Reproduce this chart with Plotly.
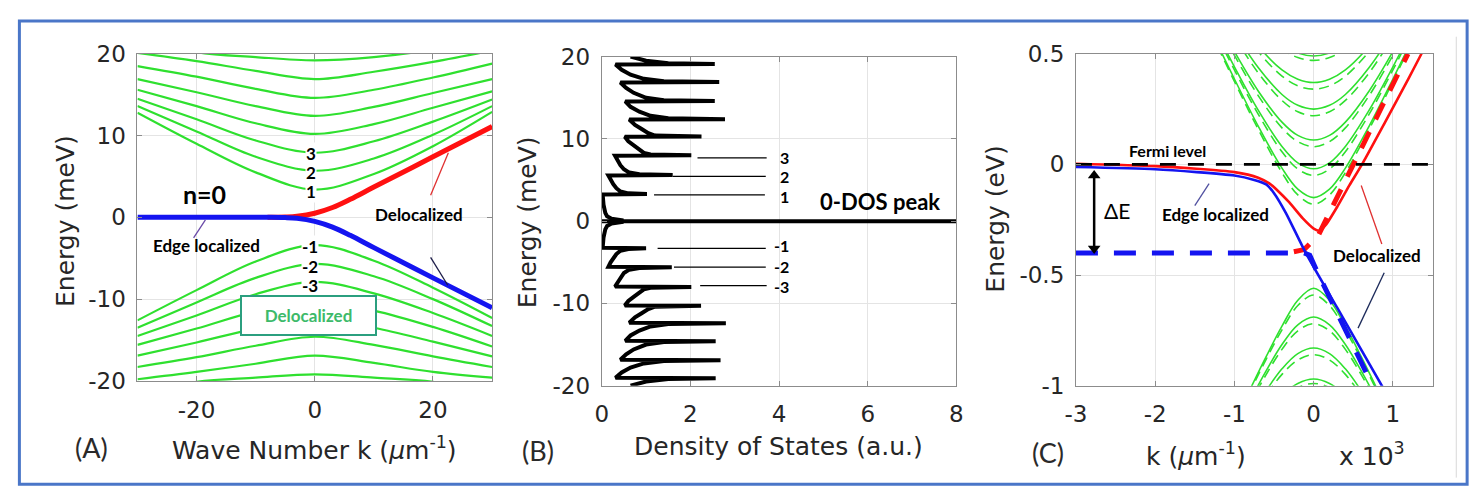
import plotly.graph_objects as go

W, H = 1484, 502

# ---------------- (A) Landau levels vs wave number (meV) ----------------
k_levels = [-30, -20, -10, 0, 10, 20, 30]
levels_upper = [
    [12.8, 9.0, 5.5, 3.4, 5.3, 8.7, 12.9],
    [13.6, 10.5, 7.4, 5.7, 7.2, 10.1, 13.6],
    [14.5, 12.0, 9.4, 7.9, 9.3, 11.7, 14.4],
    [15.6, 13.6, 11.5, 10.2, 11.4, 13.4, 15.4],
    [16.9, 15.3, 13.6, 12.4, 13.5, 15.2, 16.9],
    [18.5, 17.2, 15.7, 14.6, 15.6, 17.1, 18.8],
    [20.1, 19.1, 17.9, 16.9, 17.8, 19.0, 20.4],
    [22.0, 20.2, 19.6, 19.2, 19.6, 20.5, 22.0],
]
levels_lower = [
    [-12.6, -8.9, -5.4, -3.4, -5.3, -8.6, -12.3],
    [-13.5, -10.4, -7.4, -5.7, -7.2, -10.0, -13.3],
    [-14.5, -12.0, -9.4, -7.9, -9.3, -11.7, -14.5],
    [-15.6, -13.6, -11.5, -10.2, -11.4, -13.4, -15.8],
    [-16.9, -15.3, -13.6, -12.4, -13.5, -15.2, -17.0],
    [-18.3, -17.1, -15.7, -14.6, -15.6, -17.0, -18.3],
    [-19.8, -18.9, -17.9, -16.9, -17.8, -18.9, -19.6],
    [-21.5, -20.1, -19.6, -19.2, -19.6, -20.1, -21.5],
]
n0_red_k = [-8, -5, -3, 0, 3, 6, 10, 20, 30]
n0_red_E = [0, 0.03, 0.12, 0.5, 1.2, 2.2, 3.7, 7.4, 11.1]
n0_blue_k = [-30, -20, -8, -5, -3, 0, 3, 6, 10, 20, 30]
n0_blue_E = [0, 0, 0, -0.03, -0.12, -0.5, -1.2, -2.2, -3.7, -7.4, -11.06]

# ---------------- (B) density of states ----------------
dos_E = [
    -20.0, -19.5, -19.2, -19.1, -19.05, -18.4, -17.8, -17.3, -17.0, -16.9,
    -16.85, -16.2, -15.6, -15.0, -14.7, -14.6, -14.55, -13.9, -13.3, -12.8,
    -12.5, -12.4, -12.35, -11.7, -11.2, -10.7, -10.4, -10.3, -10.25, -9.7,
    -9.2, -8.7, -8.3, -8.1, -8.0, -7.95, -7.4, -6.8, -6.3, -5.9,
    -5.7, -5.6, -5.55, -5.0, -4.5, -4.0, -3.6, -3.38, -3.3, -3.25,
    -2.0, -1.0, -0.6, -0.3, -0.12,
    0.12, 0.3, 0.6, 1.0, 2.0,
    3.25, 3.3, 3.38, 3.6, 4.0, 4.5, 5.0, 5.55, 5.6, 5.7,
    5.9, 6.3, 6.8, 7.4, 7.95, 8.0, 8.1, 8.3, 8.7, 9.2,
    9.7, 10.25, 10.3, 10.4, 10.7, 11.2, 11.7, 12.35, 12.4, 12.5,
    12.8, 13.3, 13.9, 14.55, 14.6, 14.7, 15.0, 15.6, 16.2, 16.85,
    16.9, 17.0, 17.3, 17.8, 18.4, 19.05, 19.1, 19.2, 19.5, 20.0,
]
dos_D = [
    0.65, 1.0, 1.5, 2.57, 0.31, 0.45, 0.65, 0.95, 1.4, 2.68,
    0.42, 0.55, 0.72, 1.0, 1.4, 2.57, 0.53, 0.65, 0.85, 1.1,
    1.5, 2.8, 0.62, 0.75, 0.9, 1.05, 1.2, 2.24, 0.52, 0.6,
    0.72, 0.85, 0.95, 1.1, 2.02, 0.3, 0.36, 0.42, 0.5, 0.62,
    0.85, 1.58, 0.15, 0.2, 0.26, 0.33, 0.42, 0.6, 1.0, 0.02,
    0.04, 0.08, 0.12, 0.22, 0.45,
    0.45, 0.22, 0.12, 0.08, 0.04,
    0.02, 1.02, 0.6, 0.42, 0.33, 0.26, 0.2, 0.15, 1.6, 0.85,
    0.62, 0.5, 0.42, 0.36, 0.3, 2.02, 1.1, 0.95, 0.85, 0.72,
    0.6, 0.52, 2.25, 1.2, 1.05, 0.9, 0.75, 0.62, 2.78, 1.5,
    1.1, 0.85, 0.65, 0.53, 2.55, 1.4, 1.0, 0.72, 0.55, 0.42,
    2.65, 1.4, 0.95, 0.65, 0.45, 0.31, 2.55, 1.5, 1.0, 0.65,
]
zero_peak_D = [0, 8]
zero_peak_E = [0, 0]
level_mark_E = [7.7, 5.45, 3.2, -3.3, -5.6, -7.85]
level_mark_start = [2.16, 1.6, 1.18, 1.26, 1.63, 2.22]
level_mark_end = [3.72, 3.7, 3.68, 3.7, 3.7, 3.72]

# ---------------- (C) full-scale bands (eV, k in 10^3 um^-1) ----------------
kc_cond = [-1.3, -1.0, -0.7, -0.4, -0.2, 0.0, 0.2, 0.4, 0.7, 1.0, 1.3]
cond_solid = [
    [0.607, 0.386, 0.173, -0.017, -0.112, -0.15, -0.112, -0.017, 0.173, 0.386, 0.607],
    [0.651, 0.441, 0.245, 0.081, 0.007, -0.02, 0.007, 0.081, 0.245, 0.441, 0.651],
    [0.708, 0.510, 0.332, 0.191, 0.131, 0.11, 0.131, 0.191, 0.332, 0.510, 0.708],
    [0.782, 0.598, 0.438, 0.316, 0.267, 0.25, 0.267, 0.316, 0.438, 0.598, 0.782],
    [0.850, 0.682, 0.535, 0.427, 0.385, 0.37, 0.385, 0.427, 0.535, 0.682, 0.850],
    [0.930, 0.770, 0.637, 0.540, 0.503, 0.49, 0.503, 0.540, 0.637, 0.770, 0.930],
]
cond_dashed = [
    [0.599, 0.375, 0.159, -0.037, -0.138, -0.18, -0.138, -0.037, 0.159, 0.375, 0.599],
    [0.640, 0.427, 0.227, 0.057, -0.021, -0.05, -0.021, 0.057, 0.227, 0.427, 0.640],
    [0.694, 0.493, 0.311, 0.165, 0.103, 0.08, 0.103, 0.165, 0.311, 0.493, 0.694],
    [0.765, 0.578, 0.414, 0.289, 0.238, 0.22, 0.238, 0.289, 0.414, 0.578, 0.765],
    [0.830, 0.660, 0.510, 0.399, 0.355, 0.34, 0.355, 0.399, 0.510, 0.660, 0.830],
    [0.919, 0.756, 0.620, 0.521, 0.483, 0.47, 0.483, 0.521, 0.620, 0.756, 0.919],
]
kc_val = [-1.0, -0.8, -0.6, -0.4, -0.2, 0.0, 0.2, 0.4, 0.6, 0.8, 1.0]
val_solid = [
    [-1.165, -1.015, -0.869, -0.731, -0.614, -0.56, -0.614, -0.731, -0.869, -1.015, -1.165],
    [-1.207, -1.066, -0.933, -0.814, -0.725, -0.69, -0.725, -0.814, -0.933, -1.066, -1.207],
    [-1.270, -1.141, -1.023, -0.924, -0.855, -0.83, -0.855, -0.924, -1.023, -1.141, -1.270],
    [-1.350, -1.233, -1.129, -1.045, -0.990, -0.97, -0.990, -1.045, -1.129, -1.233, -1.350],
]
val_dashed = [
    [-1.173, -1.025, -0.881, -0.748, -0.638, -0.59, -0.638, -0.748, -0.881, -1.025, -1.173],
    [-1.219, -1.080, -0.950, -0.836, -0.752, -0.72, -0.752, -0.836, -0.950, -1.080, -1.219],
    [-1.286, -1.160, -1.045, -0.949, -0.884, -0.86, -0.884, -0.949, -1.045, -1.160, -1.286],
    [-1.360, -1.247, -1.145, -1.063, -1.009, -0.99, -1.009, -1.063, -1.145, -1.247, -1.360],
]
edge_red_k = [-3, -2, -1, -0.7, -0.56, -0.45, -0.31, -0.14, 0.0, 0.07, 0.15, 0.3, 0.45, 0.61, 0.9, 1.2, 1.36, 1.45]
edge_red_E = [0.003, -0.008, -0.035, -0.06, -0.086, -0.12, -0.171, -0.243, -0.29, -0.30, -0.275, -0.19, -0.095, 0.0, 0.19, 0.39, 0.5, 0.56]
edge_blue_k = [-3, -2, -1, -0.75, -0.6, -0.5, -0.35, -0.1, 0.3, 0.86, 1.0]
edge_blue_E = [-0.012, -0.022, -0.05, -0.07, -0.09, -0.13, -0.22, -0.40, -0.65, -1.0, -1.09]
shift_red_k = [-0.25, -0.12, 0.06, 1.07, 1.19]
shift_red_E = [-0.395, -0.385, -0.32, 0.41, 0.5]
shift_blue_k = [-3, -0.12, -0.05, 0.05, 0.73, 0.8]
shift_blue_E = [-0.4, -0.4, -0.41, -0.49, -0.99, -1.04]
fermi_k = [-3, 1.5]
fermi_E = [0, 0]
gap_arrow_k = [-2.77, -2.77]
gap_arrow_E = [-0.05, -0.38]

# ticks
ticks_a_x = [-20, 0, 20]
ticks_a_x_text = ["-20", "0", "20"]
ticks_e_mev = [-20, -10, 0, 10, 20]
ticks_e_mev_text = ["-20", "-10", "0", "10", "20"]
ticks_b_x = [0, 2, 4, 6, 8]
ticks_b_x_text = ["0", "2", "4", "6", "8"]
ticks_c_x = [-3, -2, -1, 0, 1]
ticks_c_x_text = ["-3", "-2", "-1", "0", "1"]
ticks_c_y = [-1, -0.5, 0, 0.5]
ticks_c_y_text = ["-1", "-0.5", "0", "0.5"]

GREEN = "#2fe02f"
RED = "#ff1010"
BLUE = "#1414f0"

fig = go.Figure()

# ---- panel A traces
for row in levels_upper + levels_lower:
    fig.add_trace(go.Scatter(x=k_levels, y=row, mode="lines", xaxis="x", yaxis="y",
                             line=dict(color=GREEN, width=2.2, shape="spline", smoothing=1.0),
                             hoverinfo="skip"))
fig.add_trace(go.Scatter(x=n0_red_k, y=n0_red_E, mode="lines", xaxis="x", yaxis="y",
                         line=dict(color=RED, width=5, shape="spline", smoothing=1.0)))
fig.add_trace(go.Scatter(x=n0_blue_k, y=n0_blue_E, mode="lines", xaxis="x", yaxis="y",
                         line=dict(color=BLUE, width=5, shape="spline", smoothing=1.0)))

# ---- panel B traces
fig.add_trace(go.Scatter(x=dos_D, y=dos_E, mode="lines", xaxis="x2", yaxis="y2",
                         line=dict(color="black", width=4)))
fig.add_trace(go.Scatter(x=zero_peak_D, y=zero_peak_E, mode="lines", xaxis="x2", yaxis="y2",
                         line=dict(color="black", width=4)))
for e, s, t in zip(level_mark_E, level_mark_start, level_mark_end):
    fig.add_trace(go.Scatter(x=[s, t], y=[e, e], mode="lines", xaxis="x2", yaxis="y2",
                             line=dict(color="black", width=1.3)))

# ---- panel C traces
for row in cond_solid:
    fig.add_trace(go.Scatter(x=kc_cond, y=row, mode="lines", xaxis="x3", yaxis="y3",
                             line=dict(color=GREEN, width=1.6, shape="spline")))
for row in cond_dashed:
    fig.add_trace(go.Scatter(x=kc_cond, y=row, mode="lines", xaxis="x3", yaxis="y3",
                             line=dict(color=GREEN, width=1.6, shape="spline", dash="10px,6px")))
for row in val_solid:
    fig.add_trace(go.Scatter(x=kc_val, y=row, mode="lines", xaxis="x3", yaxis="y3",
                             line=dict(color=GREEN, width=1.6, shape="spline")))
for row in val_dashed:
    fig.add_trace(go.Scatter(x=kc_val, y=row, mode="lines", xaxis="x3", yaxis="y3",
                             line=dict(color=GREEN, width=1.6, shape="spline", dash="10px,6px")))
fig.add_trace(go.Scatter(x=shift_blue_k, y=shift_blue_E, mode="lines", xaxis="x3", yaxis="y3",
                         line=dict(color=BLUE, width=5, dash="22px,16px")))
fig.add_trace(go.Scatter(x=shift_red_k, y=shift_red_E, mode="lines", xaxis="x3", yaxis="y3",
                         line=dict(color=RED, width=5, dash="18px,14px")))
fig.add_trace(go.Scatter(x=edge_red_k, y=edge_red_E, mode="lines", xaxis="x3", yaxis="y3",
                         line=dict(color=RED, width=2.6, shape="spline", smoothing=0.6)))
fig.add_trace(go.Scatter(x=edge_blue_k, y=edge_blue_E, mode="lines", xaxis="x3", yaxis="y3",
                         line=dict(color=BLUE, width=2.6, shape="spline", smoothing=0.6)))
fig.add_trace(go.Scatter(x=fermi_k, y=fermi_E, mode="lines", xaxis="x3", yaxis="y3",
                         line=dict(color="black", width=2.6, dash="16px,12px")))
# double-headed arrow marking the gap
fig.add_trace(go.Scatter(x=gap_arrow_k, y=gap_arrow_E, mode="lines+markers", xaxis="x3", yaxis="y3",
                         line=dict(color="black", width=2.5),
                         marker=dict(symbol=["triangle-up", "triangle-down"], size=11, color="black")))

TICKFONT = dict(family="DejaVu Sans", size=23, color="#262626")


def axis(domain, rng, tickvals, ticktext, anchor, standoff):
    return dict(domain=domain, range=rng, anchor=anchor, tickvals=tickvals, ticktext=ticktext,
                showgrid=True, gridcolor="#e4e4e4", gridwidth=1, zeroline=False,
                showline=True, linecolor="#8c8c8c", linewidth=1, mirror="ticks",
                ticks="inside", ticklen=5, tickcolor="#8c8c8c", tickfont=TICKFONT,
                ticklabelstandoff=standoff, fixedrange=True)


fig.update_layout(
    width=W, height=H, margin=dict(l=0, r=0, t=0, b=0),
    paper_bgcolor="white", plot_bgcolor="white", showlegend=False,
    xaxis=axis([128 / W, 487 / W], [-30, 30], ticks_a_x, ticks_a_x_text, "y", 8),
    yaxis=axis([1 - 388 / H, 1 - 43 / H], [-20, 20], ticks_e_mev, ticks_e_mev_text, "x", 6),
    xaxis2=axis([598 / W, 957 / W], [0, 8], ticks_b_x, ticks_b_x_text, "y2", 8),
    yaxis2=axis([1 - 393 / H, 1 - 46 / H], [-20, 20], ticks_e_mev, ticks_e_mev_text, "x2", 6),
    xaxis3=axis([1078 / W, 1439 / W], [-3, 1.5], ticks_c_x, ticks_c_x_text, "y3", 8),
    yaxis3=axis([1 - 393 / H, 1 - 43 / H], [-1, 0.5], ticks_c_y, ticks_c_y_text, "x3", 6),
)

TITLE = dict(family="DejaVu Sans", size=25, color="#262626")
LBL = "Lato"
ann = []


def ptext(x, y, text, font, angle=0):
    ann.append(dict(x=x / W, y=1 - y / H, xref="paper", yref="paper", text=text,
                    showarrow=False, font=font, textangle=angle, xanchor="center", yanchor="middle"))


def dtext(ax, x, y, text, size, color="black", bold=True, bg=None, **kw):
    d = dict(x=x, y=y, xref="x" + ax, yref="y" + ax, text=("<b>%s</b>" % text) if bold else text,
             showarrow=False, font=dict(family=LBL, size=size, color=color),
             xanchor="center", yanchor="middle")
    if bg:
        d.update(bgcolor=bg, borderpad=0)
    d.update(kw)
    ann.append(d)


# axis titles
ptext(307, 459, "Wave Number k (<i>μ</i>m<sup>-1</sup>)", TITLE)
ptext(55, 219, "Energy (meV)", TITLE, -90)
ptext(777, 457, "Density of States (a.u.)", TITLE)
ptext(523, 221, "Energy (meV)", TITLE, -90)
ptext(1200, 466, "k (<i>μ</i>m<sup>-1</sup>)", TITLE)
ptext(997, 217, "Energy (eV)", TITLE, -90)
ptext(1378, 466, "x 10<sup>3</sup>", TITLE)
PANEL = dict(family=LBL, size=27, color="#2a2a2a")
ptext(81, 458, "(A)", PANEL)
ptext(533, 461, "(B)", PANEL)
ptext(1050, 464, "(C)", PANEL)

# panel A labels
dtext("", -18.6, 2.9, "n=0", 25)
dtext("", -18.3, -3.4, "Edge localized", 17)
dtext("", 17.6, 0.3, "Delocalized", 17)
for lab, e in zip(["3", "2", "1"], [7.8, 5.45, 3.2]):
    dtext("", -0.7, e, lab, 17, bg="white")
for lab, e in zip(["-1", "-2", "-3"], [-3.6, -5.95, -8.3]):
    dtext("", -0.8, e, lab, 17, bg="white")
dtext("", -1.0, -12.0, "Delocalized", 17, color="#3dba6a", bg="white",
      bordercolor="#2b9f7f", borderwidth=2, width=133, height=37)

# panel B labels
dtext("2", 6.28, 2.36, "0-DOS peak", 22)
for lab, e in zip(["3", "2", "1"], [7.78, 5.48, 3.05]):
    dtext("2", 4.12, e, lab, 16)
for lab, e in zip(["-1", "-2", "-3"], [-2.94, -5.48, -7.9]):
    dtext("2", 4.06, e, lab, 16)

# panel C labels
dtext("3", -1.85, 0.063, "Fermi level", 16)
dtext("3", -2.48, -0.207, "ΔE", 21, bold=False)
dtext("3", -1.24, -0.228, "Edge localized", 17)
dtext("3", 0.8, -0.41, "Delocalized", 17)

fig.update_layout(annotations=ann)

shapes = []


def pointer(ax, x0, y0, x1, y1, color):
    shapes.append(dict(type="line", xref="x" + ax, yref="y" + ax, x0=x0, y0=y0, x1=x1, y1=y1,
                       line=dict(color=color, width=1.3)))


pointer("", -20.5, -2.5, -18.5, -0.3, "#6a4aa8")
pointer("", 19.6, 2.7, 22.6, 7.9, "#e03030")
pointer("", 19.6, -4.9, 22.5, -8.3, "#1c1c48")
pointer("3", -1.5, -0.186, -1.32, -0.087, "#5050a0")
pointer("3", 0.86, -0.36, 0.6, -0.095, "#e03030")
pointer("3", 0.89, -0.49, 0.56, -0.74, "#1c2a5a")

# outer frame
shapes.append(dict(type="rect", xref="paper", yref="paper", x0=8.5 / W, x1=1474 / W,
                   y0=1 - 497 / H, y1=1 - 8.5 / H, line=dict(color="#4a76c8", width=3)))
shapes.append(dict(type="line", xref="paper", yref="paper", x0=1463 / W, x1=1463 / W,
                   y0=1 - 490 / H, y1=1 - 25 / H, line=dict(color="#d8d8d8", width=1)))
fig.update_layout(shapes=shapes)

fig.write_html("out.html")
